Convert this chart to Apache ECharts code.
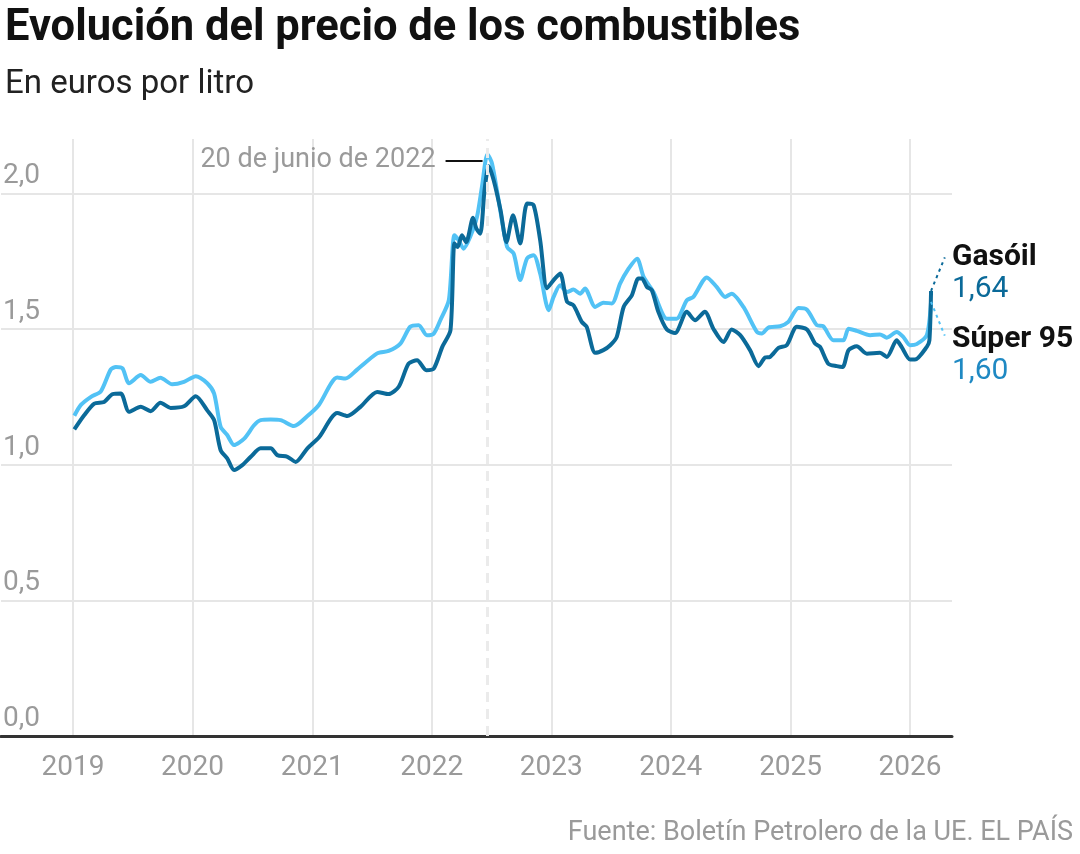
<!DOCTYPE html>
<html>
<head>
<meta charset="utf-8">
<script src="https://cdn.jsdelivr.net/npm/echarts@6/dist/echarts.min.js"></script>
<style>
  html, body { margin: 0; padding: 0; background: #fff; }
  #chart { width: 1080px; height: 854px; }
</style>
</head>
<body>
<div id="chart"></div>
<script>
// Súper 95 (light line), [date, euros per litre]
const super95 = [
  ['2019-01-05', 1.18], ['2019-01-25', 1.22], ['2019-02-25', 1.25], ['2019-03-27', 1.27],
  ['2019-04-26', 1.35], ['2019-05-12', 1.36], ['2019-06-01', 1.355], ['2019-06-21', 1.30],
  ['2019-07-27', 1.33], ['2019-08-26', 1.305], ['2019-09-25', 1.32], ['2019-10-31', 1.296],
  ['2019-12-06', 1.305], ['2020-01-11', 1.326], ['2020-02-15', 1.30], ['2020-03-07', 1.262],
  ['2020-03-27', 1.139], ['2020-04-16', 1.109], ['2020-05-07', 1.072], ['2020-06-07', 1.096],
  ['2020-07-07', 1.145], ['2020-07-27', 1.164], ['2020-08-27', 1.166], ['2020-09-26', 1.164],
  ['2020-11-06', 1.142], ['2020-12-17', 1.179], ['2021-01-21', 1.22], ['2021-03-18', 1.321],
  ['2021-04-12', 1.317], ['2021-05-18', 1.35], ['2021-07-18', 1.41], ['2021-08-22', 1.419],
  ['2021-09-27', 1.446], ['2021-10-27', 1.508], ['2021-11-22', 1.514], ['2021-12-17', 1.477],
  ['2022-01-07', 1.483], ['2022-01-27', 1.532], ['2022-02-22', 1.606], ['2022-03-11', 1.845],
  ['2022-03-24', 1.827], ['2022-04-08', 1.796], ['2022-04-28', 1.839], ['2022-05-19', 1.913],
  ['2022-06-03', 2.023], ['2022-06-20', 2.144], ['2022-07-04', 2.109], ['2022-07-24', 1.974],
  ['2022-08-19', 1.802], ['2022-09-08', 1.778], ['2022-09-28', 1.68], ['2022-10-19', 1.76],
  ['2022-11-08', 1.772], ['2022-11-28', 1.704], ['2022-12-24', 1.569], ['2023-01-08', 1.618],
  ['2023-01-28', 1.661], ['2023-02-18', 1.636], ['2023-03-10', 1.645], ['2023-03-30', 1.63],
  ['2023-04-14', 1.649], ['2023-05-15', 1.581], ['2023-06-09', 1.597], ['2023-07-05', 1.594],
  ['2023-07-30', 1.667], ['2023-08-25', 1.722], ['2023-09-20', 1.759], ['2023-10-10', 1.692],
  ['2023-11-09', 1.636], ['2023-12-20', 1.538], ['2024-01-19', 1.538], ['2024-02-19', 1.606],
  ['2024-03-10', 1.618], ['2024-04-20', 1.69], ['2024-05-20', 1.655], ['2024-06-15', 1.618],
  ['2024-07-05', 1.63], ['2024-08-10', 1.581], ['2024-09-20', 1.489], ['2024-10-05', 1.483],
  ['2024-10-25', 1.505], ['2024-11-30', 1.51], ['2024-12-25', 1.526], ['2025-01-25', 1.577],
  ['2025-02-20', 1.571], ['2025-03-22', 1.514], ['2025-04-11', 1.51], ['2025-05-12', 1.458],
  ['2025-06-11', 1.458], ['2025-06-27', 1.501], ['2025-07-22', 1.493], ['2025-09-01', 1.477],
  ['2025-10-01', 1.48], ['2025-10-22', 1.468], ['2025-11-21', 1.489], ['2025-12-11', 1.471],
  ['2026-01-01', 1.44], ['2026-01-21', 1.444], ['2026-02-21', 1.477], ['2026-03-06', 1.60]
];

// Gasóil (dark line)
const gasoil = [
  ['2019-01-05', 1.13], ['2019-02-04', 1.182], ['2019-03-07', 1.225], ['2019-04-06', 1.231],
  ['2019-05-02', 1.26], ['2019-05-27', 1.262], ['2019-06-21', 1.195], ['2019-07-27', 1.213],
  ['2019-08-26', 1.197], ['2019-09-25', 1.228], ['2019-10-26', 1.209], ['2019-12-06', 1.215],
  ['2020-01-11', 1.252], ['2020-02-15', 1.20], ['2020-03-07', 1.164], ['2020-03-27', 1.053],
  ['2020-04-16', 1.023], ['2020-05-07', 0.98], ['2020-06-01', 0.998], ['2020-06-27', 1.029],
  ['2020-07-27', 1.06], ['2020-08-27', 1.06], ['2020-09-16', 1.035], ['2020-10-17', 1.029],
  ['2020-11-11', 1.01], ['2020-12-17', 1.06], ['2021-01-21', 1.10], ['2021-03-18', 1.19],
  ['2021-04-18', 1.179], ['2021-05-28', 1.213], ['2021-07-18', 1.268], ['2021-08-22', 1.26],
  ['2021-09-22', 1.287], ['2021-10-22', 1.372], ['2021-11-17', 1.385], ['2021-12-15', 1.348],
  ['2022-01-07', 1.354], ['2022-02-02', 1.434], ['2022-02-27', 1.495], ['2022-03-11', 1.815],
  ['2022-03-21', 1.802], ['2022-04-03', 1.845], ['2022-04-16', 1.82], ['2022-05-07', 1.91],
  ['2022-05-17', 1.87], ['2022-05-29', 1.851], ['2022-06-11', 2.011], ['2022-06-24', 2.10],
  ['2022-07-09', 2.048], ['2022-07-30', 1.937], ['2022-08-17', 1.82], ['2022-09-06', 1.919],
  ['2022-09-28', 1.815], ['2022-10-19', 1.962], ['2022-11-08', 1.956], ['2022-11-28', 1.827],
  ['2022-12-19', 1.65], ['2023-01-08', 1.68], ['2023-01-28', 1.704], ['2023-02-18', 1.60],
  ['2023-03-10', 1.587], ['2023-04-04', 1.526], ['2023-04-19', 1.508], ['2023-05-15', 1.412],
  ['2023-06-09', 1.422], ['2023-06-30', 1.44], ['2023-07-20', 1.471], ['2023-08-10', 1.581],
  ['2023-09-04', 1.624], ['2023-09-24', 1.686], ['2023-10-05', 1.686], ['2023-10-20', 1.655],
  ['2023-11-04', 1.643], ['2023-11-24', 1.563], ['2023-12-20', 1.498], ['2024-01-14', 1.485],
  ['2024-02-19', 1.563], ['2024-03-15', 1.532], ['2024-04-14', 1.563], ['2024-05-10', 1.501],
  ['2024-06-10', 1.452], ['2024-07-05', 1.498], ['2024-07-31', 1.477], ['2024-08-30', 1.422],
  ['2024-09-25', 1.363], ['2024-10-15', 1.395], ['2024-10-30', 1.397], ['2024-11-25', 1.43],
  ['2024-12-20', 1.44], ['2025-01-20', 1.508], ['2025-02-20', 1.498], ['2025-03-17', 1.446],
  ['2025-04-01', 1.434], ['2025-04-26', 1.372], ['2025-05-22', 1.363], ['2025-06-09', 1.36],
  ['2025-06-27', 1.422], ['2025-07-22', 1.436], ['2025-08-22', 1.409], ['2025-10-01', 1.412],
  ['2025-10-22', 1.397], ['2025-11-21', 1.458], ['2025-12-06', 1.434], ['2026-01-01', 1.387],
  ['2026-01-16', 1.387], ['2026-02-21', 1.434], ['2026-03-01', 1.458], ['2026-03-06', 1.64]
];

const peakDate = '2022-06-20';
const peakLabel = '20 de junio de 2022';
const xMin = '2018-05-26';
const xMax = '2026-05-09';

const DARK = '#0b6a99';
const LIGHT = '#52c2f5';
const GREY = '#9a9a9a';

const fmt = v => v.toFixed(2).replace('.', ',');
const lastG = gasoil[gasoil.length - 1];
const lastS = super95[super95.length - 1];

const chart = echarts.init(document.getElementById('chart'), null, { renderer: 'canvas' });

const option = {
  animation: false,
  textStyle: { fontFamily: 'Roboto, sans-serif' },
  title: [
    {
      text: 'Evolución del precio de los combustibles',
      left: 0, top: 2,
      textStyle: { fontSize: 43.5, fontWeight: 'bold', color: '#111', fontFamily: 'Roboto' }
    },
    {
      text: 'En euros por litro',
      left: 0, top: 63,
      textStyle: { fontSize: 33, fontWeight: 'normal', color: '#222', fontFamily: 'Roboto' }
    },
    {
      text: 'Fuente: Boletín Petrolero de la UE. EL PAÍS',
      right: 2, top: 815,
      textStyle: { fontSize: 27, fontWeight: 'normal', color: GREY, fontFamily: 'Roboto' }
    }
  ],
  grid: { left: 0, right: 128, top: 139, bottom: 118, containLabel: false },
  xAxis: {
    type: 'time',
    min: xMin,
    max: xMax,
    minInterval: 365 * 24 * 3600 * 1000,
    maxInterval: 366 * 24 * 3600 * 1000,
    axisLine: { show: true, lineStyle: { color: '#333', width: 3 } },
    axisTick: { show: false },
    splitLine: { show: true, showMinLine: false, showMaxLine: false, lineStyle: { color: '#e6e6e6', width: 2 } },
    axisLabel: {
      showMinLabel: false, showMaxLabel: false,
      color: GREY, fontSize: 28, margin: 18,
      formatter: v => String(new Date(v).getFullYear())
    }
  },
  yAxis: {
    type: 'value',
    min: 0, max: 2.2, interval: 0.5,
    axisLine: { show: false },
    axisTick: { show: false },
    splitLine: { show: true, showMaxLine: false, lineStyle: { color: '#e6e6e6', width: 2 } },
    axisLabel: {
      inside: true, showMaxLabel: false,
      color: GREY, fontSize: 28, margin: 2,
      verticalAlign: 'bottom', padding: [0, 0, 3, 0],
      formatter: v => v.toFixed(1).replace('.', ',')
    }
  },
  series: [
    {
      // reference marks: dashed peak line and annotation
      type: 'line', data: [], z: 1, silent: true,
      markLine: {
        silent: true, symbol: 'none', animation: false,
        data: [
          {
            xAxis: peakDate,
            lineStyle: { type: [10, 7], color: '#ebebeb', width: 3 },
            label: { show: false }
          },
          [
            {
              coord: ['2022-02-12', 2.121],
              lineStyle: { type: 'solid', color: '#111', width: 2 },
              label: { show: true, position: 'start', distance: 10, formatter: peakLabel, color: GREY, fontSize: 27 }
            },
            { coord: ['2022-06-05', 2.121] }
          ]
        ]
      }
    },
    {
      name: 'Súper 95', type: 'line', data: super95, z: 3,
      showSymbol: false, smooth: 0.25,
      lineStyle: { color: LIGHT, width: 4 }, itemStyle: { color: LIGHT },
      markLine: {
        silent: true, symbol: 'none', animation: false,
        data: [[
          { coord: lastS, lineStyle: { type: [3, 4], color: LIGHT, width: 2 }, label: { show: false } },
          { coord: ['2026-04-17', 1.475] }
        ]]
      },
      markPoint: {
        silent: true, symbol: 'circle', symbolSize: 0, animation: false,
        data: [{
          coord: [xMax, 1.401],
          label: {
            show: true, position: 'right', distance: 0, align: 'left',
            formatter: '{n|Súper 95}\n{v|' + fmt(lastS[1]) + '}',
            rich: {
              n: { fontSize: 30, fontWeight: 'bold', color: '#111', lineHeight: 32 },
              v: { fontSize: 30, color: '#1f89c3', lineHeight: 32 }
            }
          }
        }]
      }
    },
    {
      name: 'Gasóil', type: 'line', data: gasoil, z: 4,
      showSymbol: false, smooth: 0.25,
      lineStyle: { color: DARK, width: 4 }, itemStyle: { color: DARK },
      markLine: {
        silent: true, symbol: 'none', animation: false,
        data: [[
          { coord: lastG, lineStyle: { type: [3, 4], color: DARK, width: 2 }, label: { show: false } },
          { coord: ['2026-04-17', 1.764] }
        ]]
      },
      markPoint: {
        silent: true, symbol: 'circle', symbolSize: 0, animation: false,
        data: [{
          coord: [xMax, 1.705],
          label: {
            show: true, position: 'right', distance: 0, align: 'left',
            formatter: '{n|Gasóil}\n{v|' + fmt(lastG[1]) + '}',
            rich: {
              n: { fontSize: 30, fontWeight: 'bold', color: '#111', lineHeight: 32 },
              v: { fontSize: 30, color: DARK, lineHeight: 32 }
            }
          }
        }]
      }
    }
  ]
};

chart.setOption(option);
</script>
</body>
</html>
